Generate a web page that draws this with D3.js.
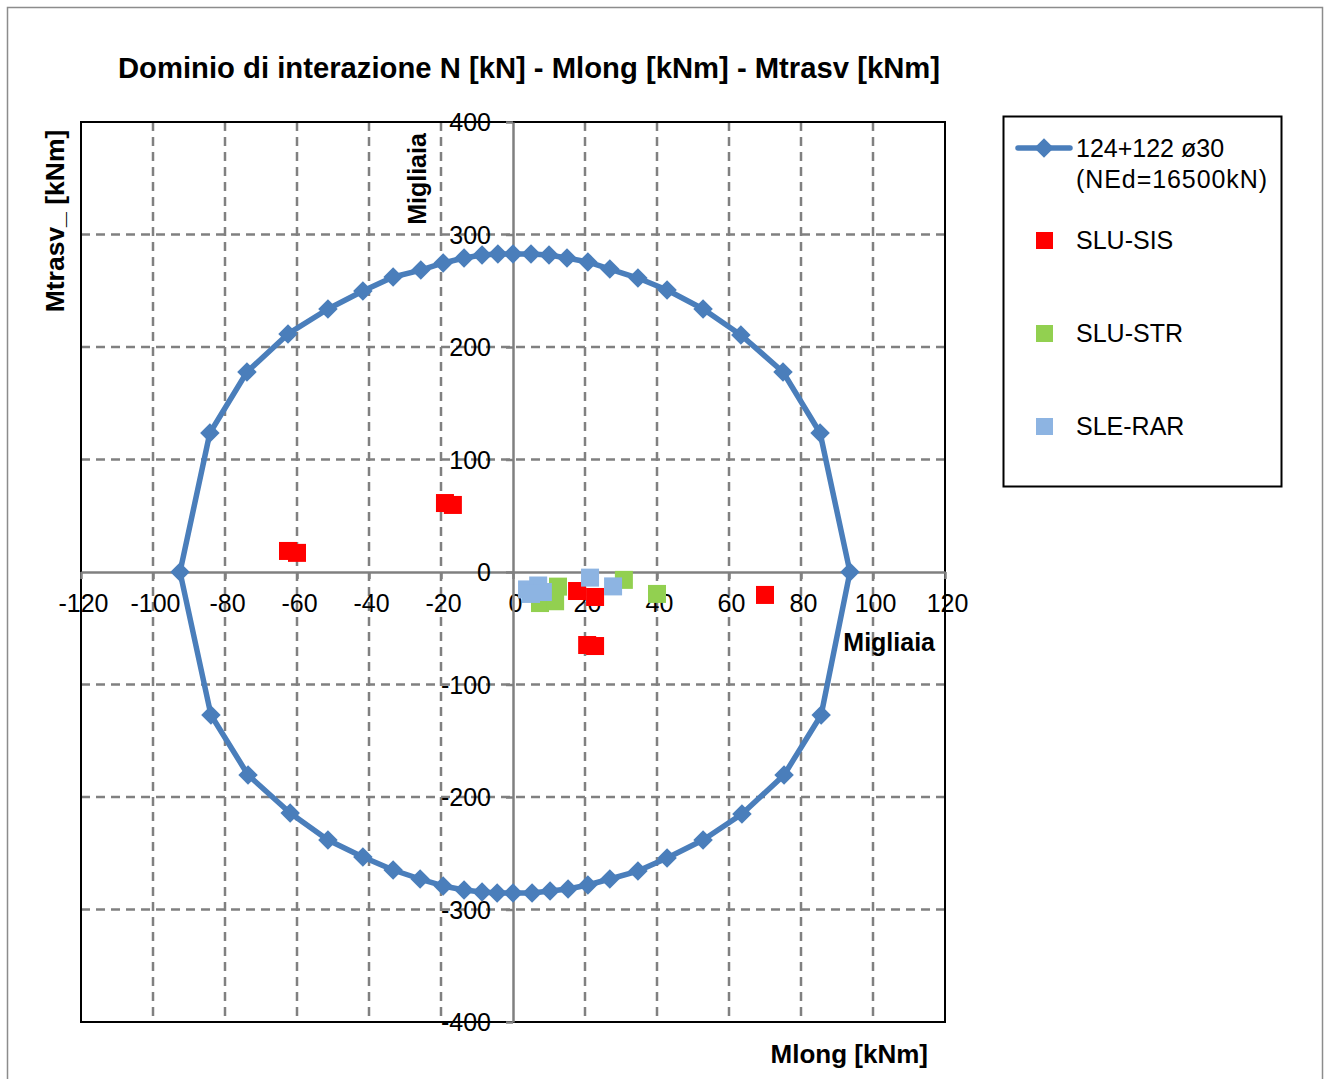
<!DOCTYPE html>
<html>
<head>
<meta charset="utf-8">
<script src="https://cdn.jsdelivr.net/npm/d3@7"></script>
<style>
  html, body { margin: 0; padding: 0; background: #fff; }
  svg { display: block; font-family: "Liberation Sans", Arial, sans-serif; }
</style>
</head>
<body>
<svg id="chart" width="1330" height="1079"></svg>
<script>
// ---- Data (values in "Migliaia" as displayed) ----
const domainX = [0, 5.0, 10.0, 15.0, 20.8, 26.9, 34.7, 42.8, 52.8, 63.3, 75.0, 85.3, 93.6,
  85.6, 75.3, 63.6, 52.8, 42.8, 34.7, 26.9, 20.8, 15.3, 10.3, 5.3, 0, -4.4, -8.6, -13.6, -19.4,
  -25.8, -33.3, -41.7, -51.4, -61.9, -73.6, -83.9, -92.5,
  -84.2, -73.9, -62.5, -51.4, -41.7, -33.3, -25.6, -19.4, -13.6, -8.6, -4.2, 0];
const domainY = [282.7, 282.7, 281.8, 279.1, 275.6, 269.3, 261.3, 250.7, 233.8, 210.7, 177.8, 123.6, 0,
  -127.1, -180.4, -215.1, -238.2, -254.2, -265.8, -272.9, -278.2, -281.8, -283.6, -285.3, -285.3, -285.3, -284.4, -282.7, -279.1,
  -272.9, -264.9, -253.3, -238.2, -214.2, -180.4, -127.1, 0,
  123.6, 177.8, 211.6, 233.8, 249.8, 262.2, 268.4, 274.7, 279.1, 281.8, 282.7, 282.7];

const sisX = [-62.5, -60.0, -18.9, -16.7, 17.8, 22.8, 20.6, 22.8, 70.0];
const sisY = [18.7, 17.0, 61.3, 59.6, -16.9, -22.2, -64.9, -65.8, -20.4];

const strX = [7.5, 12.5, 11.7, 30.8, 40.0];
const strY = [-27.6, -13.0, -26.0, -7.0, -19.5];

const rarX = [3.9, 7.0, 8.3, 5.0, 21.4, 27.8];
const rarY = [-15.5, -12.0, -17.8, -19.5, -5.0, -12.8];

const xTicks = [-120, -100, -80, -60, -40, -20, 0, 20, 40, 60, 80, 100, 120];
const yTicks = [-400, -300, -200, -100, 0, 100, 200, 300, 400];

const seriesNames = ["124+122 ø30", "(NEd=16500kN)", "SLU-SIS", "SLU-STR", "SLE-RAR"];
const titleText = "Dominio di interazione N [kN] - Mlong [kNm] - Mtrasv [kNm]";

// ---- Drawing ----
const svg = d3.select("#chart");
const L = 81, R = 945, T = 122, B = 1022;
const x = d3.scaleLinear().domain([-120, 120]).range([L, R]);
const y = d3.scaleLinear().domain([-400, 400]).range([B, T]);

const gridCol = "#808080";
const blue = "#4A7EBB";

// outer border
svg.append("rect").attr("x", 7.5).attr("y", 7.5).attr("width", 1315).attr("height", 1090)
  .attr("fill", "#fff").attr("stroke", "#8c8c8c").attr("stroke-width", 1.5);

// title
svg.append("text").attr("x", 529).attr("y", 78).attr("text-anchor", "middle")
  .attr("font-size", 29).attr("font-weight", "bold")
  .attr("textLength", 822).attr("lengthAdjust", "spacingAndGlyphs").text(titleText);

// gridlines
const g = svg.append("g");
g.selectAll("line.vg").data(xTicks.filter(d => d !== 0 && d !== -120 && d !== 120)).join("line")
  .attr("x1", d => x(d)).attr("x2", d => x(d)).attr("y1", T).attr("y2", B)
  .attr("stroke", gridCol).attr("stroke-width", 2.5).attr("stroke-dasharray", "9,6");
g.selectAll("line.hg").data(yTicks.filter(d => d !== 0 && d !== -400 && d !== 400)).join("line")
  .attr("x1", L).attr("x2", R).attr("y1", d => y(d)).attr("y2", d => y(d))
  .attr("stroke", gridCol).attr("stroke-width", 2.5).attr("stroke-dasharray", "9,6");

// plot border
svg.append("rect").attr("x", L).attr("y", T).attr("width", R - L).attr("height", B - T)
  .attr("fill", "none").attr("stroke", "#000").attr("stroke-width", 2);

// axes through zero
const fmt = d => String(d);
const xAxis = d3.axisBottom(x).tickValues(xTicks).tickSize(7).tickSizeOuter(0).tickPadding(15)
  .tickFormat(fmt);
const yAxis = d3.axisLeft(y).tickValues(yTicks).tickSize(7).tickSizeOuter(0).tickPadding(15)
  .tickFormat(fmt);

const gx = svg.append("g").attr("transform", `translate(0,${y(0)})`).call(xAxis);
const gy = svg.append("g").attr("transform", `translate(${x(0)},0)`).call(yAxis);
[gx, gy].forEach(a => {
  a.select(".domain").attr("stroke", gridCol).attr("stroke-width", 2.5);
  a.selectAll(".tick line").attr("stroke", gridCol).attr("stroke-width", 2.5);
  a.selectAll(".tick text").attr("font-size", 25).attr("fill", "#000")
    .attr("font-family", "Liberation Sans, Arial, sans-serif");
});
gx.selectAll(".tick text").attr("dx", 2);
gy.selectAll(".tick text").attr("dy", "0.34em");

// axis titles
svg.append("text").attr("x", 928).attr("y", 1063).attr("text-anchor", "end")
  .attr("font-size", 26).attr("font-weight", "bold").text("Mlong [kNm]");
svg.append("text").attr("transform", "translate(64,221) rotate(-90)").attr("text-anchor", "middle")
  .attr("font-size", 26.5).attr("font-weight", "bold").text("Mtrasv_ [kNm]");
svg.append("text").attr("x", 935).attr("y", 651).attr("text-anchor", "end")
  .attr("font-size", 25).attr("font-weight", "bold").text("Migliaia");
svg.append("text").attr("transform", "translate(426,179) rotate(-90)").attr("text-anchor", "middle")
  .attr("font-size", 25).attr("font-weight", "bold").text("Migliaia");

// domain line
const domainPts = domainX.map((d, i) => [d, domainY[i]]);
const line = d3.line().x(d => x(d[0])).y(d => y(d[1]));
svg.append("path").datum(domainPts).attr("d", line).attr("fill", "none")
  .attr("stroke", blue).attr("stroke-width", 5.5).attr("stroke-linejoin", "round");
const diamond = d3.symbol().type(d3.symbolSquare).size(190);
svg.append("g").selectAll("path").data(domainPts.slice(0, -1)).join("path")
  .attr("d", diamond)
  .attr("transform", d => `translate(${x(d[0])},${y(d[1])}) rotate(45)`)
  .attr("fill", blue);

// scatter squares
const sq = 18;
function squares(xs, ys, color) {
  svg.append("g").selectAll("rect").data(xs.map((d, i) => [d, ys[i]])).join("rect")
    .attr("x", d => x(d[0]) - sq / 2).attr("y", d => y(d[1]) - sq / 2)
    .attr("width", sq).attr("height", sq).attr("fill", color);
}
squares(sisX, sisY, "#FF0000");
squares(strX, strY, "#92D050");
squares(rarX, rarY, "#8DB4E2");

// legend
const lg = svg.append("g");
lg.append("rect").attr("x", 1003.5).attr("y", 116.5).attr("width", 278).attr("height", 370)
  .attr("fill", "#fff").attr("stroke", "#000").attr("stroke-width", 2);
lg.append("line").attr("x1", 1018).attr("x2", 1070).attr("y1", 148).attr("y2", 148)
  .attr("stroke", blue).attr("stroke-width", 5.5).attr("stroke-linecap", "round");
lg.append("path").attr("d", diamond).attr("transform", "translate(1044,148) rotate(45)").attr("fill", blue);
lg.append("text").attr("x", 1076).attr("y", 157).attr("font-size", 25).text(seriesNames[0]);
lg.append("text").attr("x", 1076).attr("y", 188).attr("font-size", 25)
  .attr("textLength", 191).attr("lengthAdjust", "spacing").text(seriesNames[1]);
const legCols = ["#FF0000", "#92D050", "#8DB4E2"];
[240, 333, 426].forEach((cy, i) => {
  lg.append("rect").attr("x", 1036).attr("y", cy - 8).attr("width", 17).attr("height", 17).attr("fill", legCols[i]);
  lg.append("text").attr("x", 1076).attr("y", cy + 9).attr("font-size", 25).text(seriesNames[i + 2]);
});
</script>
</body>
</html>
